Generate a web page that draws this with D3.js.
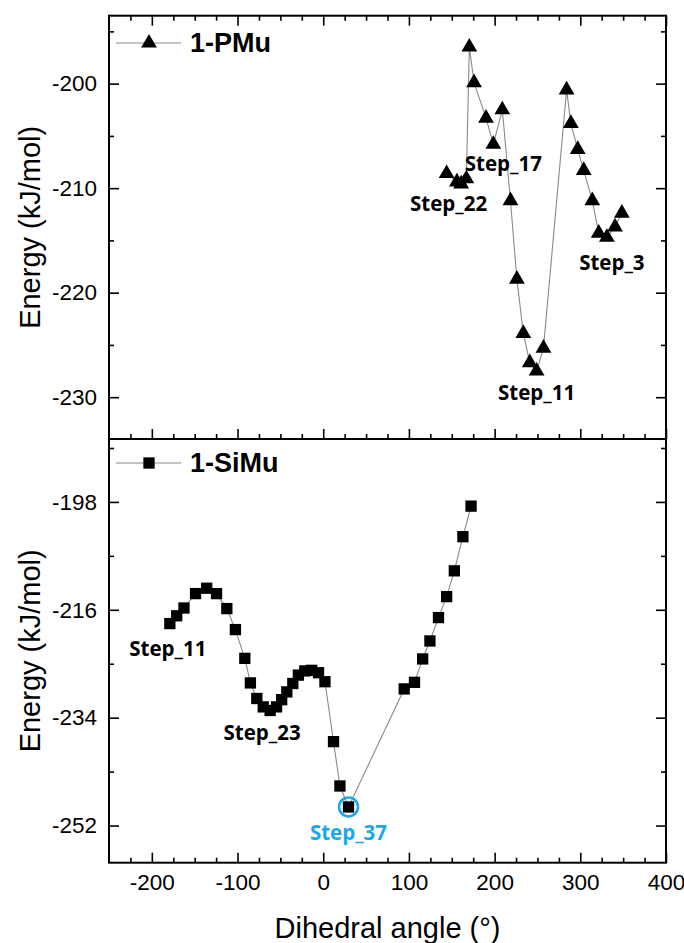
<!DOCTYPE html>
<html>
<head>
<meta charset="utf-8">
<script src="https://cdn.jsdelivr.net/npm/d3@7"></script>
<style>
  html, body { margin: 0; padding: 0; background: #fff; }
  svg { display: block; }
</style>
</head>
<body>
<svg id="chart" width="684" height="943"></svg>
<script>
// Dihedral scan, 1-PMu (triangles)
const pmuAngle = [144, 156, 161, 167, 170.5, 176, 190, 198.5, 209, 218.5, 226, 233.5, 241, 249, 257, 284, 289, 297, 304, 314, 321.5, 331, 340.5, 348.5];
const pmuEnergy = [-208.6, -209.4, -209.6, -209.1, -196.5, -199.9, -203.3, -205.8, -202.5, -211.2, -218.7, -223.9, -226.7, -227.5, -225.3, -200.6, -203.8, -206.3, -208.3, -211.2, -214.3, -214.7, -213.7, -212.4];

// Dihedral scan, 1-SiMu (squares)
const simuAngle = [-179, -171, -162.5, -149, -136, -124.5, -112.5, -102.5, -91.5, -85, -77.5, -70, -62, -54.5, -48.5, -42.5, -35.5, -29, -21.5, -13.5, -5.5, 2, 12, 19.5, 29.5, 94.5, 106.5, 116, 124.5, 134.5, 144, 153, 163, 172.5];
const simuEnergy = [-218.3, -217, -215.7, -213.3, -212.4, -213.3, -215.8, -219.3, -224.1, -228.2, -230.8, -232.2, -232.8, -232.2, -231, -229.7, -228.3, -226.9, -226.2, -226.1, -226.5, -228, -238, -245.4, -248.9, -229.2, -228.1, -224.2, -221.2, -217.3, -213.8, -209.5, -203.8, -198.7];

// Axis ticks
const xMajorTicks = [-200, -100, 0, 100, 200, 300, 400];
const topMajorTicks = [-200, -210, -220, -230];
const botMajorTicks = [-198, -216, -234, -252];

// Step annotations: label text and the index of the scan point it marks
const pmuSteps = ["Step_22", "Step_17", "Step_11", "Step_3"];
const pmuStepIdx = [0, 7, 13, 21];
const simuSteps = ["Step_11", "Step_23", "Step_37"];
const simuStepIdx = [0, 12, 24];

const svg = d3.select("#chart");
const L = 109, R = 666, T = 15.7, MID = 439, B = 862.7;

const x = d3.scaleLinear().domain([-250, 400]).range([L, R]);
const yTop = d3.scaleLinear().domain([-234, -193.5]).range([MID, T]);
const yBot = d3.scaleLinear().domain([-258.2, -187.5]).range([B, MID]);

const tickFont = "Liberation Sans, Arial, sans-serif";
const xMinor = d3.range(-225, 400, 25).filter(v => v % 100 !== 0);
const plain = d => String(d);

function drawPanel(y, majors, minorStep, top, bottom, showXLabels, showTopTicks) {
  const g = svg.append("g");
  const [d0, d1] = y.domain();
  const minors = d3.range(Math.ceil(d0 / minorStep) * minorStep, d1, minorStep)
    .filter(v => !majors.some(m => Math.abs(m - v) < 1e-6));

  function styleAxis(sel) {
    sel.select(".domain").remove();
    sel.selectAll("line").attr("stroke", "#000").attr("stroke-width", 1.6);
    sel.selectAll("text").attr("font-family", tickFont).attr("font-size", 22.5).attr("fill", "#000");
  }

  // left axis
  g.append("g").attr("transform", `translate(${L},0)`)
    .call(d3.axisLeft(y).tickValues(majors).tickSize(-10).tickPadding(12).tickFormat(plain))
    .call(styleAxis);
  g.append("g").attr("transform", `translate(${L},0)`)
    .call(d3.axisLeft(y).tickValues(minors).tickSize(-5).tickFormat(""))
    .call(styleAxis);
  // right axis
  g.append("g").attr("transform", `translate(${R},0)`)
    .call(d3.axisRight(y).tickValues(majors).tickSize(-10).tickFormat(""))
    .call(styleAxis);
  g.append("g").attr("transform", `translate(${R},0)`)
    .call(d3.axisRight(y).tickValues(minors).tickSize(-5).tickFormat(""))
    .call(styleAxis);
  // bottom axis
  g.append("g").attr("transform", `translate(0,${bottom})`)
    .call(d3.axisBottom(x).tickValues(xMajorTicks).tickSize(-10).tickPadding(11)
      .tickFormat(showXLabels ? plain : ""))
    .call(styleAxis);
  g.append("g").attr("transform", `translate(0,${bottom})`)
    .call(d3.axisBottom(x).tickValues(xMinor).tickSize(-5).tickFormat(""))
    .call(styleAxis);
  // top axis
  if (showTopTicks) {
    g.append("g").attr("transform", `translate(0,${top})`)
      .call(d3.axisTop(x).tickValues(xMajorTicks).tickSize(-10).tickFormat(""))
      .call(styleAxis);
    g.append("g").attr("transform", `translate(0,${top})`)
      .call(d3.axisTop(x).tickValues(xMinor).tickSize(-5).tickFormat(""))
      .call(styleAxis);
  }
  // frame
  g.append("rect").attr("x", L).attr("y", top).attr("width", R - L).attr("height", bottom - top)
    .attr("fill", "none").attr("stroke", "#000").attr("stroke-width", 2);

  // y title
  g.append("text")
    .attr("transform", `translate(30,${(top + bottom) / 2}) rotate(-90)`)
    .attr("text-anchor", "middle").attr("dominant-baseline", "central")
    .attr("font-family", tickFont).attr("font-size", 29).text("Energy (kJ/mol)");
}

drawPanel(yTop, topMajorTicks, 5, T, MID, false, true);
drawPanel(yBot, botMajorTicks, 9, MID, B, true, false);

// x title
svg.append("text").attr("x", (L + R) / 2).attr("y", 928)
  .attr("text-anchor", "middle").attr("dominant-baseline", "central")
  .attr("font-family", tickFont).attr("font-size", 29).text("Dihedral angle (°)");

const lineColor = "#8a8a8a";

function drawSeries(angles, energies, y, symbol, size) {
  const pts = angles.map((a, i) => [a, energies[i]]);
  svg.append("path").datum(pts)
    .attr("d", d3.line().x(d => x(d[0])).y(d => y(d[1])))
    .attr("fill", "none").attr("stroke", lineColor).attr("stroke-width", 1.1);
  svg.append("g").selectAll("path").data(pts).join("path")
    .attr("transform", d => `translate(${x(d[0])},${y(d[1])})`)
    .attr("d", d3.symbol(symbol, size))
    .attr("fill", "#000");
}

drawSeries(pmuAngle, pmuEnergy, yTop, d3.symbolTriangle, 108);
drawSeries(simuAngle, simuEnergy, yBot, d3.symbolSquare, 128);

// legends
function legend(yPos, symbol, size, label) {
  const g = svg.append("g");
  g.append("line").attr("x1", 116).attr("x2", 181).attr("y1", yPos).attr("y2", yPos)
    .attr("stroke", lineColor).attr("stroke-width", 1.1);
  g.append("path").attr("transform", `translate(149,${yPos})`)
    .attr("d", d3.symbol(symbol, size)).attr("fill", "#000");
  g.append("text").attr("x", 190).attr("y", yPos).attr("dominant-baseline", "central")
    .attr("font-family", tickFont).attr("font-weight", "bold").attr("font-size", 27)
    .text(label);
}
legend(43, d3.symbolTriangle, 108, "1-PMu");
legend(463, d3.symbolSquare, 128, "1-SiMu");

// step annotations
const stepFont = "Open Sans, sans-serif";
const stepSize = 20.5;
const pmuOffsets = [[2, 29], [10, 19], [0, 21], [5, 25]];
pmuSteps.forEach((s, k) => {
  const i = pmuStepIdx[k];
  svg.append("text")
    .attr("x", x(pmuAngle[i]) + pmuOffsets[k][0]).attr("y", yTop(pmuEnergy[i]) + pmuOffsets[k][1])
    .attr("text-anchor", "middle").attr("dominant-baseline", "central")
    .attr("font-family", stepFont).attr("font-weight", 700).attr("font-size", stepSize)
    .attr("fill", "#000").text(s);
});

const blue = "#1ba7e8";
const simuOffsets = [[-2, 24], [-8, 22], [0, 25]];
simuSteps.forEach((s, k) => {
  const i = simuStepIdx[k];
  svg.append("text")
    .attr("x", x(simuAngle[i]) + simuOffsets[k][0]).attr("y", yBot(simuEnergy[i]) + simuOffsets[k][1])
    .attr("text-anchor", "middle").attr("dominant-baseline", "central")
    .attr("font-family", stepFont).attr("font-weight", 700).attr("font-size", stepSize)
    .attr("fill", k === 2 ? blue : "#000").text(s);
});

// highlighted minimum
const mi = simuStepIdx[2];
svg.append("circle").attr("cx", x(simuAngle[mi])).attr("cy", yBot(simuEnergy[mi])).attr("r", 9.5)
  .attr("fill", "none").attr("stroke", blue).attr("stroke-width", 2.5);
</script>
</body>
</html>
